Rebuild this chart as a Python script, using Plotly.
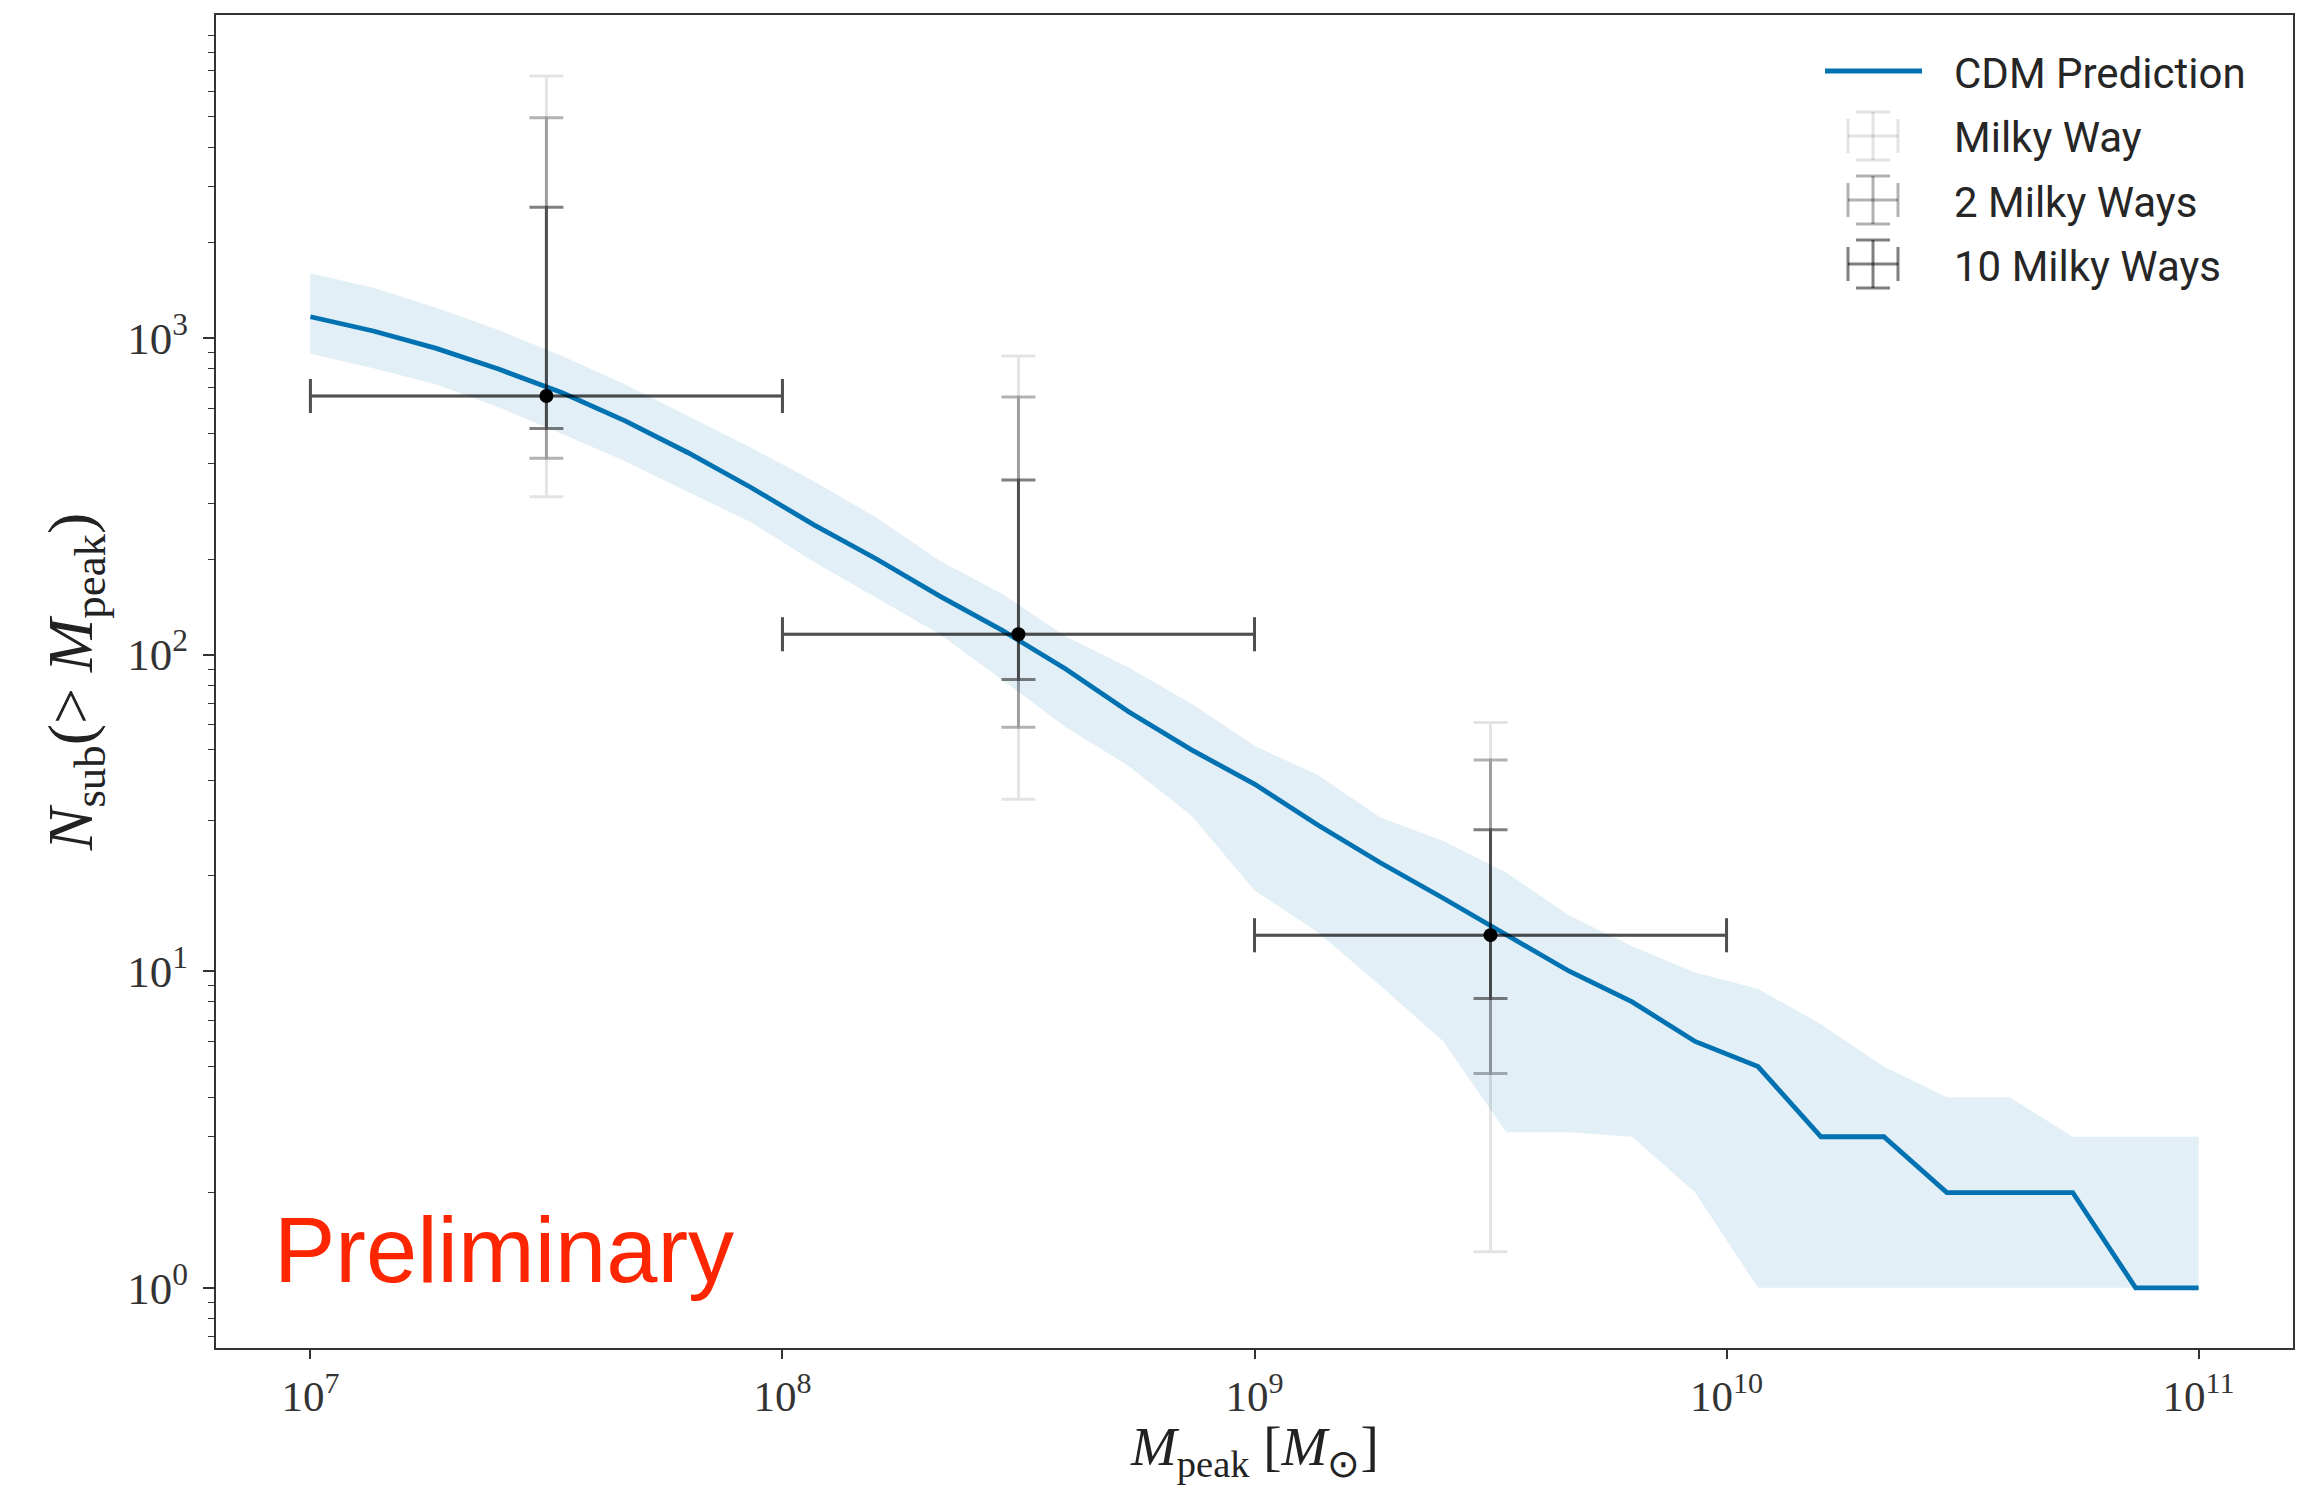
import plotly.graph_objects as go

# ---------------- data ----------------
# CDM prediction grid (M_peak, solar masses)
mpeak = [1.000e7, 1.359e7, 1.848e7, 2.512e7, 3.415e7, 4.642e7, 6.310e7, 8.577e7,
         1.166e8, 1.585e8, 2.154e8, 2.929e8, 3.981e8, 5.412e8, 7.356e8,
         1.000e9, 1.359e9, 1.848e9, 2.512e9, 3.415e9, 4.642e9, 6.310e9, 8.577e9,
         1.166e10, 1.585e10, 2.154e10, 2.929e10, 3.981e10, 5.412e10, 7.356e10, 1.000e11]
cdm_median = [1167, 1052, 927, 796, 671, 547, 434, 337, 257, 200, 153, 119, 90, 66, 50,
              39, 29, 22, 17, 13, 10, 8, 6, 5, 3, 3, 2, 2, 2, 1, 1]
cdm_upper = [1600, 1442, 1245, 1057, 877, 713, 567, 450, 353, 270, 198, 155, 114, 91, 70,
             51.5, 41.7, 30.6, 25.8, 20.5, 15, 12, 9.9, 8.8, 6.8, 5, 4, 4, 3, 3, 3]
cdm_lower = [891, 802, 713, 603, 497, 408, 326, 262, 196, 151, 116, 83, 59, 44.5, 31,
             18, 13.3, 9, 6, 3.1, 3.1, 3, 2, 1, 1, 1, 1, 1, 1, 1, 1]

# measured bins
bin_center = [3.162e7, 3.162e8, 3.162e9]
bin_low = [1e7, 1e8, 1e9]
bin_high = [1e8, 1e9, 1e10]
n_sub = [656, 116, 13.0]

# vertical error ranges (low, high) for each survey size
mw1_low = [315, 34.9, 1.30]
mw1_high = [6714, 877, 61.0]
mw2_low = [417, 59.0, 4.75]
mw2_high = [4958, 651, 46.5]
mw10_low = [518, 83.5, 8.2]
mw10_high = [2589, 356, 28.0]

x_tickvals = [1e7, 1e8, 1e9, 1e10, 1e11]
x_ticktext = ["10<sup>7</sup>", "10<sup>8</sup>", "10<sup>9</sup>", "10<sup>10</sup>", "10<sup>11</sup>"]
y_tickvals = [1, 10, 100, 1000]
y_ticktext = ["10<sup>0</sup>", "10<sup>1</sup>", "10<sup>2</sup>", "10<sup>3</sup>"]
y_minor = [0.7, 0.8, 0.9] + [m * 10 ** e for e in range(0, 4) for m in range(2, 10)]

legend_labels = ["CDM Prediction", "Milky Way", "2 Milky Ways", "10 Milky Ways"]
x_title = "<i>M</i><sub>peak</sub> [<i>M</i><sub>⊙</sub>]"
y_title = "<i>N</i><sub>sub</sub>(> <i>M</i><sub>peak</sub>)"

# ---------------- style ----------------
BLUE = "#0072B2"
BAND = "rgba(0,114,178,0.115)"
ALPHAS = [0.11, 0.3, 0.5]
SERIF = "Liberation Serif"

W_FIG, H_FIG = 2317, 1487
L, R, T, B = 216, 2293, 15, 1348


def px(x):
    return (x - L) / (R - L)


def py(y):
    return (B - y) / (B - T)


fig = go.Figure()

# band
fig.add_trace(go.Scatter(x=mpeak, y=cdm_upper, mode="lines", line=dict(width=0),
                         hoverinfo="skip", showlegend=False))
fig.add_trace(go.Scatter(x=mpeak, y=cdm_lower, mode="lines", line=dict(width=0),
                         fill="tonexty", fillcolor=BAND, hoverinfo="skip", showlegend=False))
# median
fig.add_trace(go.Scatter(x=mpeak, y=cdm_median, mode="lines",
                         line=dict(color=BLUE, width=4.8), name=legend_labels[0], showlegend=False))

# error bars
for lows, highs, a, name in [(mw1_low, mw1_high, ALPHAS[0], legend_labels[1]),
                             (mw2_low, mw2_high, ALPHAS[1], legend_labels[2]),
                             (mw10_low, mw10_high, ALPHAS[2], legend_labels[3])]:
    col = f"rgba(0,0,0,{a})"
    fig.add_trace(go.Scatter(
        x=bin_center, y=n_sub, mode="markers", name=name, showlegend=False,
        marker=dict(color="rgba(0,0,0,0)", size=2),
        error_x=dict(type="data", symmetric=False,
                     array=[h - c for h, c in zip(bin_high, bin_center)],
                     arrayminus=[c - l for c, l in zip(bin_center, bin_low)],
                     color=col, thickness=3, width=17),
        error_y=dict(type="data", symmetric=False,
                     array=[h - n for h, n in zip(highs, n_sub)],
                     arrayminus=[n - l for n, l in zip(n_sub, lows)],
                     color=col, thickness=3, width=17),
    ))

# dots
fig.add_trace(go.Scatter(x=bin_center, y=n_sub, mode="markers",
                         marker=dict(color="black", size=14), showlegend=False))

# ---------------- manual legend ----------------
shapes = []
annotations = []
row_y = [71, 136, 200, 264]
icon_x = 1873
shapes.append(dict(type="line", xref="paper", yref="paper",
                   x0=px(1825), x1=px(1922), y0=py(row_y[0]), y1=py(row_y[0]),
                   line=dict(color=BLUE, width=4.8)))
for k, a in enumerate(ALPHAS):
    yc = row_y[k + 1]
    col = f"rgba(0,0,0,{a})"
    segs = [
        (icon_x - 25, yc, icon_x + 25, yc),
        (icon_x, yc - 24, icon_x, yc + 24),
        (icon_x - 17, yc - 24, icon_x + 17, yc - 24),
        (icon_x - 17, yc + 24, icon_x + 17, yc + 24),
        (icon_x - 25, yc - 17, icon_x - 25, yc + 17),
        (icon_x + 25, yc - 17, icon_x + 25, yc + 17),
    ]
    for x0, y0, x1, y1 in segs:
        shapes.append(dict(type="line", xref="paper", yref="paper",
                           x0=px(x0), x1=px(x1), y0=py(y0), y1=py(y1),
                           line=dict(color=col, width=3)))
for lab, yc in zip(legend_labels, row_y):
    annotations.append(dict(text=lab, xref="paper", yref="paper", x=px(1952), y=py(yc + 2),
                            xanchor="left", yanchor="middle", showarrow=False,
                            font=dict(family="Roboto", size=42, color="#262626")))

annotations.append(dict(text="Preliminary", xref="paper", yref="paper",
                        x=px(272), y=py(1250), xanchor="left", yanchor="middle",
                        showarrow=False,
                        font=dict(family="Liberation Sans", size=92, color="#FD2600")))

# x-axis title (annotation, tucked just above the bottom edge)
annotations.append(dict(text=x_title, xref="paper", yref="paper",
                        x=0.5, y=py(1486), xanchor="center", yanchor="bottom",
                        showarrow=False, borderpad=0,
                        font=dict(family=SERIF, size=55, color="#222222")))

axis_common = dict(type="log", showgrid=False, zeroline=False, showline=True,
                   linecolor="#333333", linewidth=2, mirror=True,
                   ticks="outside", tickcolor="#333333", tickwidth=1.5)

fig.update_layout(
    width=W_FIG, height=H_FIG,
    margin=dict(l=L, r=W_FIG - R, t=T, b=H_FIG - B, autoexpand=False),
    paper_bgcolor="white", plot_bgcolor="white",
    showlegend=False,
    shapes=shapes, annotations=annotations,
    xaxis=dict(axis_common, range=[6.8, 11.2], tickmode="array",
               tickvals=x_tickvals, ticktext=x_ticktext, ticklen=9,
               ticklabelstandoff=0,
               tickfont=dict(family=SERIF, size=43, color="#333333")),
    yaxis=dict(axis_common, range=[-0.19, 4.02], tickmode="array",
               tickvals=y_tickvals, ticktext=y_ticktext, ticklen=11,
               ticklabelstandoff=6,
               tickfont=dict(family=SERIF, size=45, color="#333333"),
               minor=dict(tickmode="array", tickvals=y_minor, ticks="outside",
                          ticklen=6, tickwidth=1.2, tickcolor="#333333", showgrid=False),
               title=dict(text=y_title,
                          font=dict(family=SERIF, size=64, color="#222222"), standoff=14)),
)

fig.write_html("out.html")
